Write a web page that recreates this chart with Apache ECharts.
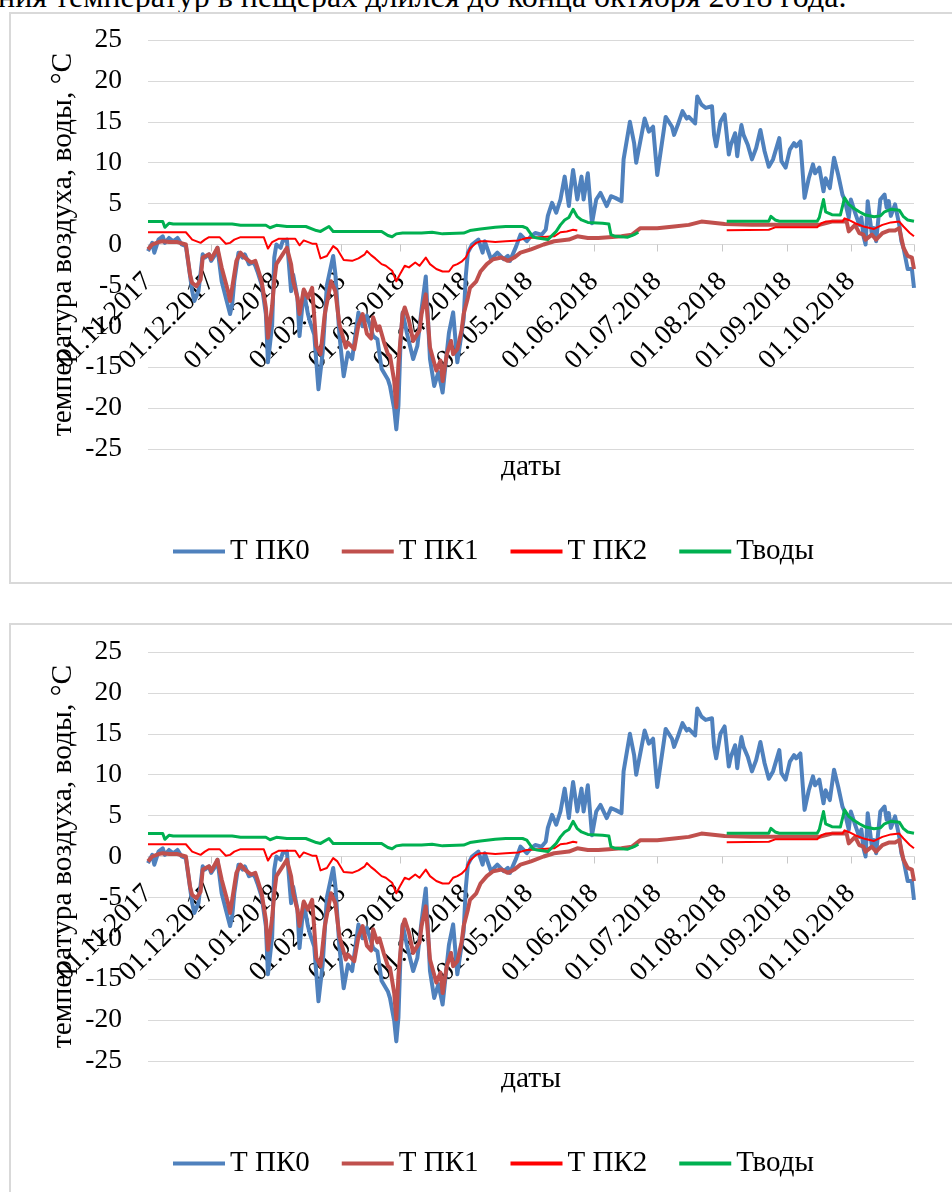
<!DOCTYPE html>
<html>
<head>
<meta charset="utf-8">
<script src="https://cdn.jsdelivr.net/npm/echarts@6/dist/echarts.min.js"></script>
<style>
  html, body { margin: 0; padding: 0; background: #fff; }
  body { width: 952px; height: 1192px; position: relative; overflow: hidden;
         font-family: 'Liberation Serif', serif; }
  .caption { position: absolute; left: -2px; top: -20px; font-size: 32px; line-height: 32px;
             white-space: nowrap; color: #000; }
  .frame { position: absolute; left: 9px; width: 1000px; border: 2px solid #d9d9d9; box-sizing: border-box; }
  .chart { position: absolute; left: 0; width: 952px; height: 600px; }
</style>
</head>
<body>
<div class="caption">ния температур в пещерах длился до конца октября 2018 года.</div>
<div class="frame" style="top:12px;height:572px"></div>
<div class="frame" style="top:623px;height:700px"></div>
<div id="chartA" class="chart" style="top:0"></div>
<div id="chartB" class="chart" style="top:612px"></div>
<script>
// Daily series from 01.11.2017 to 31.10.2018; each point is [day since 01.11.2017, °C]
const startYear = 2017, startMonth = 10, startDay = 1;
const dayCount = 365;

const seriesNames = ['Т ПК0', 'Т ПК1', 'Т ПК2', 'Тводы'];
const yTicks = { min: -25, max: 25, step: 5 };

const tPK0 = [
  [0,-0.8],[2,0.2],[3,-1.0],[5,0.6],[7,1.0],[8,0.2],[10,0.8],[12,0.4],[14,0.8],[16,0],[18,-0.2],
  [19,-2.0],[21,-5.7],[22,-6.9],[24,-5.7],[26,-1.2],[27,-1.6],[29,-1.2],[30,-2.0],[32,-1.2],[33,-0.4],
  [35,-4.5],[37,-6.5],[39,-8.5],[40,-7.3],[41,-4.5],[43,-1.0],[45,-1.6],[46,-1.2],[48,-2.4],[50,-2.2],
  [51,-2.6],[52,-3.3],[54,-4.9],[56,-8.5],[57,-14.4],[59,-9.8],[60,-1.6],[61,0],[63,-0.4],[64,0.4],
  [66,0.6],[68,-5.7],[69,-3.7],[71,-6.5],[72,-11.2],[74,-5.7],[76,-8.5],[77,-9.5],[79,-11.0],[81,-17.7],
  [83,-13.2],[85,-5.0],[87,-2.6],[88,-1.4],[89,-3.5],[91,-11.2],[93,-16.1],[95,-13.2],[97,-14.0],
  [100,-8.3],[102,-10.0],[104,-8.7],[107,-11.2],[109,-11.6],[111,-15.2],[114,-16.5],[115,-17.3],
  [117,-20.1],[118,-22.6],[119,-19.7],[120,-12.0],[121,-8.3],[123,-10.8],[126,-14.0],[128,-12.4],
  [130,-7.9],[132,-3.9],[134,-14.0],[136,-17.3],[138,-15.6],[140,-18.1],[143,-10.8],[145,-8.3],
  [147,-14.4],[150,-9.1],[151,-3.9],[152,-1.0],[154,0.0],[157,0.6],[159,-1.0],[160,0.4],[163,-1.8],
  [166,-1.0],[169,-1.8],[171,-1.4],[172,-2.0],[175,-0.2],[177,1.2],[180,0.4],[182,1.0],[184,1.4],
  [187,1.2],[189,1.8],[190,3.5],[192,5.1],[194,3.9],[196,5.5],[198,8.3],[200,4.7],[201,7.1],[202,9.1],
  [204,5.5],[206,8.3],[207,5.5],[209,8.7],[211,2.6],[213,5.5],[215,6.3],[218,4.7],[220,5.9],[222,5.7],
  [225,5.3],[226,10.4],[229,15.0],[231,12.4],[232,10.0],[236,15.4],[238,13.8],[240,14.4],[242,8.5],
  [245,13.8],[246,15.6],[249,14.4],[250,13.4],[252,14.8],[254,16.3],[256,15.4],[257,15.6],[260,14.8],
  [261,18.1],[263,17.1],[265,16.7],[268,16.9],[269,13.4],[270,12.0],[272,15.0],[274,15.9],[276,11.0],
  [277,12.2],[279,13.6],[280,10.8],[281,13.0],[282,14.6],[283,13.4],[285,12.2],[287,10.4],[289,11.8],
  [291,14.0],[293,11.4],[295,9.5],[297,10.4],[300,13.0],[301,10.2],[303,9.4],[305,11.6],[307,12.4],
  [308,12.0],[310,12.6],[312,5.7],[314,8.1],[316,9.8],[317,8.7],[319,9.4],[321,6.5],[322,8.1],[324,6.9],
  [326,10.6],[328,8.5],[330,6.1],[331,5.5],[333,3.3],[334,5.5],[336,3.9],[338,2.4],[339,3.3],[340,1.0],
  [341,0],[342,5.3],[344,1.2],[345,2.0],[346,0.4],[348,5.5],[350,6.1],[351,4.5],[352,5.3],[353,3.5],
  [355,4.9],[357,2.4],[358,0.4],[359,-0.4],[361,-3.0],[363,-3.0],[364,-5.3]
];

const tPK1 = [
  [0,-0.6],[2,0],[5,0.3],[7,0.4],[10,0.3],[14,0.3],[18,0],[20,-3.7],[21,-4.7],[23,-5.1],[25,-4.3],
  [26,-1.6],[29,-1.2],[30,-1.8],[33,-0.4],[35,-2.8],[38,-5.7],[39,-6.9],[40,-5.3],[42,-2.0],[44,-1.0],
  [46,-1.6],[49,-2.2],[51,-2.0],[52,-2.8],[54,-4.5],[56,-7.7],[57,-11.4],[59,-7.5],[60,-4.5],[61,-2.4],
  [64,-1.2],[66,-0.4],[68,-2.4],[69,-4.5],[71,-6.5],[72,-8.5],[74,-5.5],[76,-6.5],[78,-5.3],[80,-12.4],
  [82,-13.4],[84,-8.5],[87,-4.5],[89,-5.7],[91,-9.8],[94,-12.6],[95,-12.0],[98,-12.8],[100,-9.8],
  [102,-8.5],[104,-10.9],[106,-11.5],[107,-8.9],[109,-10.5],[110,-10.0],[112,-11.8],[114,-13.4],
  [115,-13.6],[117,-16.7],[118,-19.9],[119,-14.6],[121,-8.5],[122,-7.7],[124,-9.3],[126,-11.8],
  [129,-10.5],[130,-8.5],[132,-6.1],[134,-12.6],[137,-15.4],[139,-14.2],[140,-16.7],[142,-13.4],
  [144,-11.8],[145,-13.4],[147,-12.8],[149,-10.5],[150,-8.5],[152,-6.5],[153,-5.3],[156,-4.5],
  [158,-3.3],[161,-2.4],[164,-1.8],[168,-1.6],[171,-2.0],[174,-1.6],[177,-1.0],[182,-0.6],[188,0],
  [193,0.4],[200,0.6],[204,1.0],[209,0.8],[214,0.8],[219,0.9],[225,1.0],[230,1.2],[234,2.0],[242,2.0],
  [250,2.2],[257,2.4],[263,2.8],[274,2.5],[287,2.4],[301,2.4],[319,2.4],[325,2.8],[332,2.8],[333,1.6],
  [336,2.4],[338,1.4],[340,1.2],[341,0.6],[344,1.2],[346,0.6],[349,1.4],[352,1.7],[355,1.7],[357,2.0],
  [358,0.8],[359,-0.4],[361,-1.4],[363,-1.6],[364,-3.0]
];

const tPK2 = [
  [0,1.5],[18,1.5],[21,0.6],[25,0.2],[27,0.6],[29,0.9],[34,0.9],[37,0.1],[39,0.2],[41,0.6],[44,0.9],
  [55,0.9],[57,-0.5],[59,0.3],[62,0.7],[70,0.7],[72,-0.1],[74,0.5],[78,0.1],[80,0.1],[82,-1.7],[85,-1.4],
  [88,-0.2],[90,-0.6],[93,-1.9],[97,-2.0],[100,-1.7],[103,-1.2],[104,-0.8],[106,-1.3],[108,-1.7],
  [111,-2.4],[113,-2.6],[116,-3.2],[118,-4.5],[120,-3.5],[122,-2.6],[124,-2.8],[127,-2.2],[129,-2.6],
  [132,-1.6],[134,-2.4],[137,-3.0],[140,-3.3],[143,-3.3],[145,-2.6],[147,-2.4],[149,-2.1],[151,-1.6],
  [153,-0.5],[156,0.2],[158,0.4],[161,0.4],[165,0.3],[170,0.4],[176,0.5],[180,0.8],[186,0.9],[193,1.0],
  [196,1.5],[199,1.6],[202,1.8],[204,1.7],[240,null],
  [275,1.75],[295,1.8],[298,2.1],[318,2.1],[320,2.6],[322,2.8],[330,2.8],[331,3.2],[333,3.0],[336,2.6],
  [340,2.2],[345,1.9],[349,2.4],[353,2.7],[357,2.8],[359,2.2],[362,1.4],[364,1.0]
];

const tWater = [
  [0,2.8],[7,2.8],[8,2.1],[10,2.6],[12,2.5],[30,2.5],[40,2.5],[44,2.35],[56,2.35],[58,2.05],[61,2.35],
  [66,2.2],[75,2.2],[80,1.7],[82,1.6],[86,2.2],[88,1.6],[111,1.6],[114,1.1],[116,0.95],[118,1.3],
  [121,1.4],[130,1.4],[135,1.5],[140,1.3],[150,1.4],[153,1.7],[158,1.9],[165,2.1],[170,2.2],[178,2.2],
  [180,2.0],[183,0.9],[185,0.8],[190,0.6],[194,1.6],[196,2.4],[198,3.0],[200,3.3],[202,4.3],[204,3.4],
  [206,3.0],[209,2.7],[216,2.6],[219,2.5],[220,1.2],[222,1.0],[228,0.9],[231,1.2],[233,1.5],[250,null],
  [275,2.85],[295,2.85],[296,3.45],[298,3.0],[300,2.85],[318,2.85],[319,3.3],[321,5.5],[322,4.0],
  [325,3.65],[329,3.6],[331,5.7],[333,4.9],[335,4.5],[338,4.0],[341,3.6],[345,3.4],[348,3.5],[350,4.0],
  [353,4.3],[357,4.2],[359,3.4],[361,3.0],[364,2.85]
];

const seriesColors = ['#4F81BD', '#C0504D', '#FF0000', '#00B050'];
const seriesWidths = [4, 4, 2, 3];

// Category labels dd.mm.yyyy for every day of the period
const pad = n => (n < 10 ? '0' : '') + n;
const dates = [];
for (let i = 0; i < dayCount; i++) {
  const d = new Date(Date.UTC(startYear, startMonth, startDay + i));
  dates.push(pad(d.getUTCDate()) + '.' + pad(d.getUTCMonth() + 1) + '.' + d.getUTCFullYear());
}
const isMonthStart = (idx, val) => val.slice(0, 3) === '01.';

const font = 'Liberation Serif';
const fsTick = 27.5;
const fsLegend = 29;
const fsTitle = 29.5;

// plot box and the position of the zero line inside it
const gridBox = { left: 148, right: 38, top: 40, bottom: 151 };
const plotHeight = 600 - gridBox.top - gridBox.bottom;
const zeroOffset = -plotHeight * (0 - yTicks.min) / (yTicks.max - yTicks.min);

function buildOption() {
  const sources = [tPK0, tPK1, tPK2, tWater];
  return {
    animation: false,
    textStyle: { fontFamily: font, color: '#000' },
    grid: Object.assign({ containLabel: false, outerBoundsMode: 'none' }, gridBox),
    legend: {
      left: 168, top: 532, itemWidth: 52, itemHeight: 4, itemGap: 32,
      icon: 'rect',
      textStyle: { fontFamily: font, fontSize: fsLegend, color: '#000' },
      data: seriesNames
    },
    xAxis: {
      type: 'category',
      data: dates,
      boundaryGap: false,
      offset: zeroOffset,
      name: 'даты',
      nameLocation: 'middle',
      nameGap: 208,
      nameMoveOverlap: false,
      nameTextStyle: { fontFamily: font, fontSize: fsTitle, color: '#000' },
      axisLine: { onZero: false, lineStyle: { color: '#d9d9d9', width: 1 } },
      axisTick: {
        show: true, length: 7, lineStyle: { color: '#c8c8c8' },
        interval: (i, v) => isMonthStart(i, v) || i === dayCount - 1
      },
      axisLabel: {
        interval: isMonthStart, rotate: 45, margin: 33,
        fontFamily: font, fontSize: fsTick, color: '#000'
      },
      splitLine: { show: false }
    },
    yAxis: {
      type: 'value',
      min: yTicks.min, max: yTicks.max, interval: yTicks.step,
      name: 'температура воздуха, воды, °С',
      nameLocation: 'middle',
      nameRotate: 90,
      nameGap: 70,
      nameMoveOverlap: false,
      nameTextStyle: { fontFamily: font, fontSize: fsTitle, color: '#000' },
      axisLine: { show: false },
      axisTick: { show: false },
      axisLabel: { margin: 26, fontFamily: font, fontSize: fsTick, color: '#000' },
      splitLine: { lineStyle: { color: '#d9d9d9', width: 1 } }
    },
    series: sources.map((src, k) => ({
      name: seriesNames[k],
      type: 'line',
      symbol: 'none',
      connectNulls: false,
      data: src.map(([d, v]) => [dates[d], v]),
      lineStyle: { color: seriesColors[k], width: seriesWidths[k], join: 'round' },
      itemStyle: { color: seriesColors[k] }
    }))
  };
}

['chartA', 'chartB'].forEach(id => {
  const chart = echarts.init(document.getElementById(id));
  chart.setOption(buildOption());
});
</script>
</body>
</html>
